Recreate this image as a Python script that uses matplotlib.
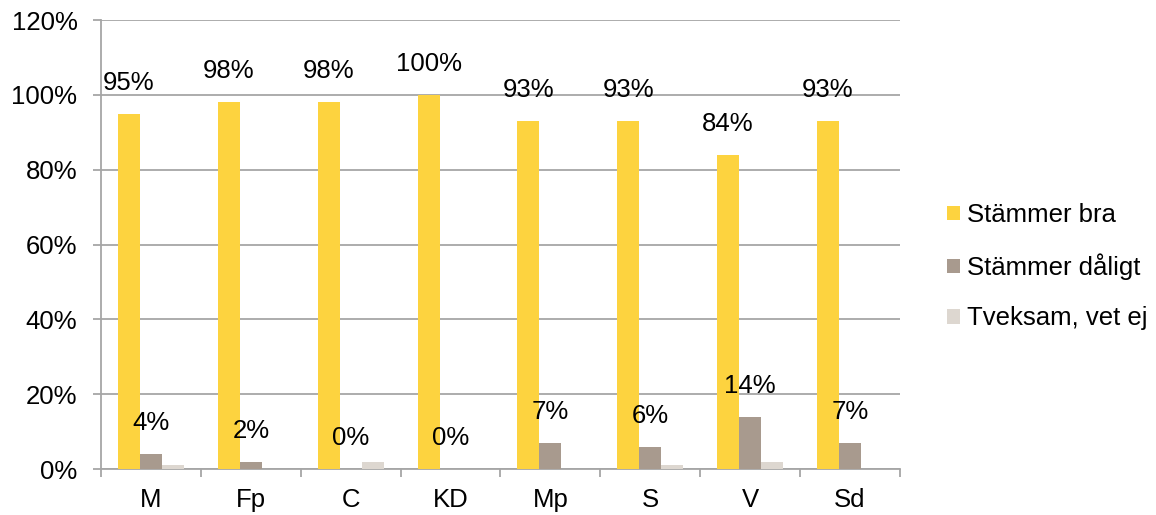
import numpy as np
import matplotlib.pyplot as plt
from matplotlib.ticker import PercentFormatter, FixedLocator, NullFormatter

plt.rcParams['font.family'] = ['Liberation Sans', 'DejaVu Sans']

partier = ['M', 'Fp', 'C', 'KD', 'Mp', 'S', 'V', 'Sd']
serier = ['Stämmer bra', 'Stämmer dåligt', 'Tveksam, vet ej']
bra = [95, 98, 98, 100, 93, 93, 84, 93]
daligt = [4, 2, 0, 0, 7, 6, 14, 7]
tveksam = [1, 0, 2, 0, 0, 1, 2, 0]

farger = ['#FDD33F', '#A89A8E', '#DDD7D0']
grid_farg = '#A6A6A6'
fs = 18.5

fig = plt.figure(figsize=(11.56, 5.15), dpi=100)
ax = fig.add_axes([0.0874, 0.0893, 0.6911, 0.8718])

x = np.arange(len(partier))
w = 0.22
varden = [bra, daligt, tveksam]
for k, (namn, v) in enumerate(zip(serier, varden)):
    bars = ax.bar(x + (k - 1) * w, v, width=w, color=farger[k], label=namn, zorder=3)
    if k < 2:
        for b, val in zip(bars, v):
            ax.annotate(f'{val}%', (b.get_x() + b.get_width() / 2, val),
                        xytext=(0, 31), textcoords='offset pixels',
                        ha='center', va='center', fontsize=fs, zorder=4)

ax.set_xlim(-0.5, len(partier) - 0.5)
ax.set_ylim(0, 120)
ax.yaxis.set_major_locator(FixedLocator(np.arange(0, 121, 20)))
ax.yaxis.set_major_formatter(PercentFormatter(decimals=0))
ax.set_xticks(x)
ax.set_xticklabels(partier)
ax.xaxis.set_minor_locator(FixedLocator(np.arange(-0.5, len(partier), 1)))
ax.xaxis.set_minor_formatter(NullFormatter())
ax.tick_params(axis='x', which='major', length=0, pad=14, labelsize=fs)
ax.tick_params(axis='x', which='minor', length=6, color=grid_farg, width=1.3)
ax.tick_params(axis='y', length=6, color=grid_farg, width=1.3, labelsize=fs, pad=11)

ax.grid(axis='y', color=grid_farg, linewidth=1.3, zorder=0)
for s in ['top', 'right']:
    ax.spines[s].set_visible(False)
for s in ['left', 'bottom']:
    ax.spines[s].set_color(grid_farg)
    ax.spines[s].set_linewidth(1.3)

fig.legend(loc='center left', bbox_to_anchor=(0.819, 0.482), frameon=False,
           fontsize=fs, handlelength=0.5, handleheight=0.5, handletextpad=0.3,
           labelspacing=1.02, borderaxespad=0, borderpad=0)

fig.savefig('out.png', dpi=100)
